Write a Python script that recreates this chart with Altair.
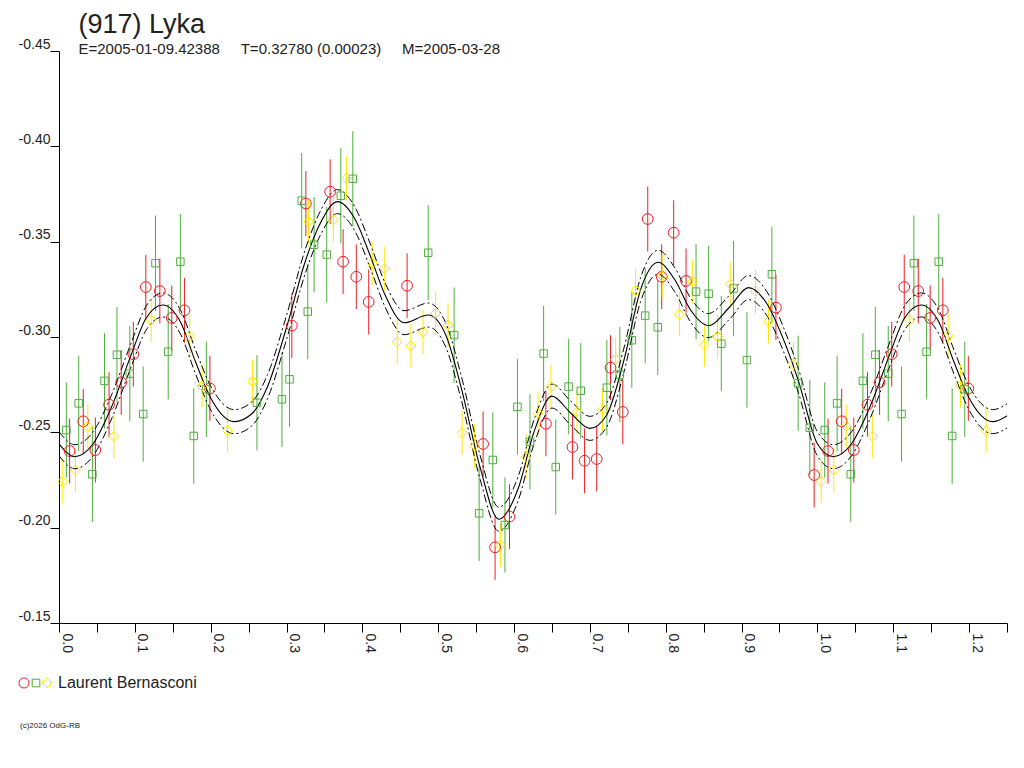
import altair as alt
import pandas as pd

FONT = "Liberation Sans, Arial, Helvetica, sans-serif"

TITLE = "(917) Lyka"
SUBTITLE = "E=2005-01-09.42388\u00a0\u00a0\u00a0\u00a0\u00a0T=0.32780 (0.00023)\u00a0\u00a0\u00a0\u00a0\u00a0M=2005-03-28"
OBSERVER = "Laurent Bernasconi"
COPYRIGHT = "(c)2026 OdG-RB"

RED = "#ee1c24"
GREEN = "#4daf3c"
YELLOW = "#ffe600"

# observations (phase, relative magnitude)
RED_PHASE = [0.014, 0.032, 0.048, 0.066, 0.082, 0.098, 0.1145, 0.133, 0.1487, 0.1654,
             0.199, 0.307, 0.3255, 0.3575, 0.3746, 0.392, 0.4084, 0.459, 0.5592, 0.575,
             0.594, 0.642, 0.677, 0.693, 0.709, 0.7272, 0.7434, 0.7763, 0.7947, 0.8105,
             0.8268, 0.9453, 0.9957]
RED_MAG = [-0.2402, -0.2558, -0.2407, -0.2645, -0.2762, -0.2910, -0.3262, -0.3241, -0.3100, -0.3140,
           -0.2730, -0.3060, -0.3700, -0.3762, -0.3395, -0.3316, -0.3184, -0.3269, -0.2439, -0.1897,
           -0.2058, -0.2545, -0.2423, -0.2351, -0.2360, -0.2839, -0.2607, -0.3619, -0.3316, -0.3547,
           -0.3294, -0.3154, -0.2276]
RED_ERR = 0.0170

GREEN_PHASE = [0.0097, 0.026, 0.044, 0.060, 0.0764, 0.0934, 0.111, 0.1272, 0.144, 0.160,
               0.1777, 0.1943, 0.261, 0.294, 0.304, 0.320, 0.328, 0.3364, 0.353, 0.3716,
               0.3874, 0.4868, 0.521, 0.554, 0.572, 0.588, 0.6045, 0.621, 0.639, 0.655,
               0.672, 0.688, 0.7224, 0.7395, 0.7553, 0.7729, 0.7895, 0.840, 0.8566, 0.8733,
               0.8895, 0.9071, 0.940, 0.9746, 0.990]
GREEN_MAG = [-0.2512, -0.2652, -0.2280, -0.2770, -0.2907, -0.2808, -0.2596, -0.3387, -0.2923, -0.3395,
             -0.2481, -0.2726, -0.2655, -0.2673, -0.2778, -0.3715, -0.3133, -0.3484, -0.3432, -0.3741,
             -0.3830, -0.3442, -0.3010, -0.2075, -0.2355, -0.2014, -0.2634, -0.2450, -0.2913, -0.2318,
             -0.2740, -0.2718, -0.2734, -0.2803, -0.2983, -0.3112, -0.3051, -0.3238, -0.3227, -0.2965,
             -0.3254, -0.2879, -0.3329, -0.2757, -0.2524]
GREEN_ERR = 0.0250

YELLOW_PHASE = [0.005, 0.0216, 0.038, 0.0724, 0.1216, 0.1724, 0.1887, 0.2224, 0.2553, 0.329,
                0.3618, 0.379, 0.413, 0.4295, 0.446, 0.464, 0.480, 0.4966, 0.513, 0.5316,
                0.548, 0.582, 0.6158, 0.6316, 0.6487, 0.683, 0.7166, 0.734, 0.7603, 0.7953,
                0.818, 0.8355, 0.851, 0.8684, 0.8851, 0.9184, 0.9355, 0.9684]
YELLOW_MAG = [-0.2242, -0.2303, -0.2532, -0.2479, -0.3089, -0.3005, -0.2743, -0.2509, -0.2766, -0.3605,
              -0.3614, -0.3832, -0.3387, -0.3358, -0.2975, -0.2953, -0.3025, -0.3124, -0.3063, -0.2498,
              -0.2428, -0.1909, -0.2372, -0.2600, -0.2740, -0.2608, -0.2617, -0.2883, -0.3243, -0.3320,
              -0.3119, -0.3290, -0.2958, -0.3002, -0.3277, -0.3238, -0.3080, -0.2858]
YELLOW_ERR = 0.0115

# fitted curve
CURVE_PHASE = [0.000, 0.021, 0.045, 0.070, 0.095, 0.115, 0.137, 0.160, 0.180, 0.200,
               0.231, 0.255, 0.275, 0.300, 0.325, 0.345, 0.367, 0.390, 0.410, 0.430,
               0.455, 0.487, 0.510, 0.530, 0.555, 0.580, 0.605, 0.627, 0.650, 0.675,
               0.700, 0.722, 0.745, 0.767, 0.790, 0.812, 0.833, 0.856, 0.885, 0.909,
               0.933, 0.955, 0.975, 1.000]
CURVE_MAG = [-0.2440, -0.2372, -0.2440, -0.2640, -0.2905, -0.3100, -0.3168, -0.3080, -0.2870, -0.2680,
             -0.2556, -0.2600, -0.2740, -0.3050, -0.3400, -0.3600, -0.3710, -0.3620, -0.3430, -0.3220,
             -0.3075, -0.3115, -0.3010, -0.2740, -0.2320, -0.2044, -0.2200, -0.2510, -0.2690, -0.2600,
             -0.2521, -0.2590, -0.2880, -0.3250, -0.3392, -0.3300, -0.3140, -0.3060, -0.3160, -0.3259,
             -0.3177, -0.2990, -0.2770, -0.2440]
CURVE_BAND = 0.0063

X_TICKS = [round(i * 0.05, 2) for i in range(26)]
Y_TICKS = [-0.45, -0.40, -0.35, -0.30, -0.25, -0.20, -0.15]


def series(phases, mags, err):
    df = pd.DataFrame({"phase": phases, "mag": mags})
    dup = df[df.phase < 0.25].copy()
    dup["phase"] = dup["phase"] + 1.0
    df = pd.concat([df, dup], ignore_index=True)
    df["lo"] = df["mag"] - err
    df["hi"] = df["mag"] + err
    return df


curve = pd.DataFrame({"phase": CURVE_PHASE, "mag": CURVE_MAG})
cdup = curve[(curve.phase > 0) & (curve.phase < 0.26)].copy()
cdup["phase"] = cdup["phase"] + 1.0
curve = pd.concat([curve, cdup], ignore_index=True)
curve_hi = curve.assign(mag=curve["mag"] - CURVE_BAND)
curve_lo = curve.assign(mag=curve["mag"] + CURVE_BAND)

xscale = alt.Scale(domain=[0, 1.25], nice=False, zero=False)
yscale = alt.Scale(domain=[-0.45, -0.15], reverse=True, nice=False, zero=False)

xaxis = alt.Axis(values=X_TICKS, title=None, grid=False, tickSize=9, labelAngle=90,
                 labelAlign="left", labelBaseline="bottom", labelPadding=1,
                 labelFontSize=14, labelFont=FONT, labelColor="#222222",
                 labelOverlap=False, labelFlush=False,
                 labelExpr="(round(datum.value*100) % 10 == 0) ? format(datum.value, '.1f') : ''",
                 domainColor="black", tickColor="black")
yaxis = alt.Axis(values=Y_TICKS, title=None, grid=False, tickSize=9,
                 labelAlign="right", labelBaseline="bottom", labelPadding=0,
                 labelFontSize=14, labelFont=FONT, labelColor="#222222",
                 labelOverlap=False, labelFlush=False,
                 labelExpr="(datum.value < 0 ? '-' : '') + format(abs(datum.value), '.2f')",
                 domainColor="black", tickColor="black")

X = alt.X("phase:Q", scale=xscale, axis=xaxis)
Y = alt.Y("mag:Q", scale=yscale, axis=yaxis)


def errbars(df, color):
    return alt.Chart(df).mark_rule(strokeWidth=1, color=color).encode(
        x=X, y=alt.Y("lo:Q", scale=yscale, axis=yaxis), y2="hi:Q")


def points(df, color, shape, size):
    return alt.Chart(df).mark_point(shape=shape, filled=False, color=color, size=size,
                                    strokeWidth=1, opacity=1).encode(x=X, y=Y)


red = series(RED_PHASE, RED_MAG, RED_ERR)
green = series(GREEN_PHASE, GREEN_MAG, GREEN_ERR)
yellow = series(YELLOW_PHASE, YELLOW_MAG, YELLOW_ERR)

fit = alt.Chart(curve).mark_line(color="black", strokeWidth=1.1, interpolate="monotone",
                                 clip=True).encode(x=X, y=Y, order="phase:Q")
band_hi = alt.Chart(curve_hi).mark_line(color="black", strokeWidth=1, interpolate="monotone",
                                        strokeDash=[8, 3, 2, 3], clip=True).encode(x=X, y=Y, order="phase:Q")
band_lo = alt.Chart(curve_lo).mark_line(color="black", strokeWidth=1, interpolate="monotone",
                                        strokeDash=[8, 3, 2, 3], clip=True).encode(x=X, y=Y, order="phase:Q")

one = pd.DataFrame({"k": [0]})
title = alt.Chart(one).mark_text(text=TITLE, font=FONT, fontSize=27, align="left",
                                 baseline="alphabetic", color="#222222").encode(
    x=alt.value(19.5), y=alt.value(-18))
subtitle = alt.Chart(one).mark_text(text=SUBTITLE, font=FONT, fontSize=15, align="left",
                                    baseline="alphabetic", color="#222222").encode(
    x=alt.value(19.5), y=alt.value(3))
leg_c = alt.Chart(one).mark_point(shape="circle", filled=False, color=RED, size=100,
                                  strokeWidth=1, opacity=1).encode(x=alt.value(-35), y=alt.value(632))
leg_s = alt.Chart(one).mark_point(shape="square", filled=False, color=GREEN, size=58,
                                  strokeWidth=1, opacity=1).encode(x=alt.value(-23), y=alt.value(632))
leg_d = alt.Chart(one).mark_point(shape="diamond", filled=False, color=YELLOW, size=100,
                                  strokeWidth=1, opacity=1).encode(x=alt.value(-12), y=alt.value(632))
leg_t = alt.Chart(one).mark_text(text=OBSERVER, font=FONT, fontSize=16, align="left",
                                 baseline="alphabetic", color="#222222").encode(
    x=alt.value(-1), y=alt.value(637))
copy_t = alt.Chart(one).mark_text(text=COPYRIGHT, font=FONT, fontSize=8, align="left",
                                  baseline="alphabetic", color="#222222").encode(
    x=alt.value(-39), y=alt.value(677))

chart = alt.layer(
    errbars(red, RED), errbars(green, GREEN), errbars(yellow, YELLOW),
    band_hi, band_lo, fit,
    points(red, RED, "circle", 115), points(green, GREEN, "square", 56),
    points(yellow, YELLOW, "diamond", 100),
    title, subtitle, leg_c, leg_s, leg_d, leg_t, copy_t,
).properties(
    width=948, height=572,
    padding={"left": 51, "top": 43, "right": 5, "bottom": 130},
    autosize="none",
    background="white",
).configure_view(stroke=None)

chart.save("out.html", embed_options={"renderer": "svg", "actions": False})
